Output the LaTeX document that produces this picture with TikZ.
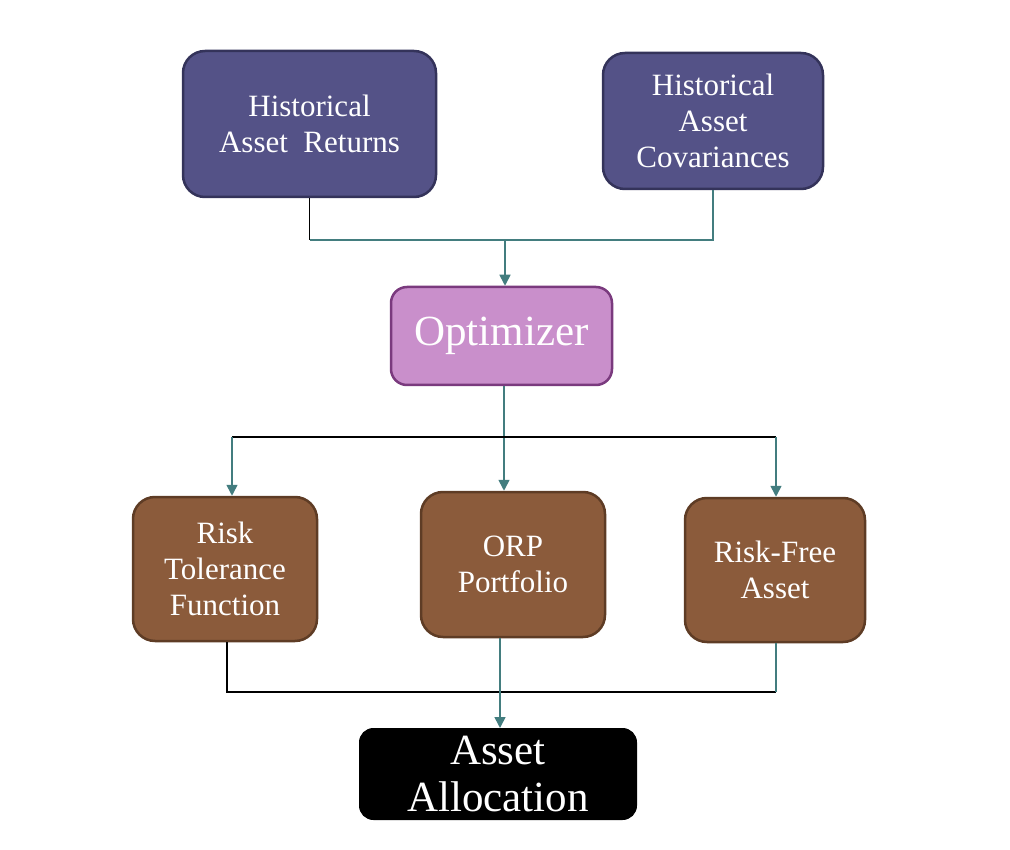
\documentclass[tikz,border=0pt]{standalone}
\usepackage{fontspec}
\setmainfont{Liberation Serif}
\usepackage{xcolor}
\usetikzlibrary{arrows.meta}

\definecolor{histfill}{HTML}{545287}
\definecolor{histline}{HTML}{34335A}
\definecolor{optfill}{HTML}{C98FCB}
\definecolor{optline}{HTML}{7A3A7E}
\definecolor{outfill}{HTML}{8B5B3B}
\definecolor{outline}{HTML}{5E3C25}
\definecolor{link}{HTML}{437D7F}

\begin{document}
\begin{tikzpicture}[x=1pt, y=-1pt, >={Triangle[width=11pt,length=11pt]},
    box/.style={draw, line width=2.5pt, rounded corners=22pt, align=center,
      text=white, inner sep=0pt},
    histbox/.style={box, fill=histfill, draw=histline,
      font=\fontsize{31}{36}\selectfont},
    outbox/.style={box, fill=outfill, draw=outline,
      font=\fontsize{31}{36}\selectfont},
    link/.style={draw=link, line width=1.6pt},
    bar/.style={draw=black, line width=1.6pt}]
    \useasboundingbox (0, 0) rectangle (1010, 850);

    \node[histbox, minimum width=253, minimum height=146] at (309.5, 124) (returns) {Historical\\Asset~~Returns};
    \node[histbox, minimum width=220, minimum height=136] at (713, 121) (covars) {Historical\\Asset\\Covariances};

    \node[box, fill=optfill, draw=optline, minimum width=221, minimum height=98,
      rounded corners=16pt, font=\fontsize{43}{46}\selectfont] at (501.5, 336) (optimizer) {Optimizer};

    \node[outbox, minimum width=184, minimum height=144] at (225, 569) (tolerance) {Risk\\Tolerance\\Function};
    \node[outbox, minimum width=184, minimum height=145] at (513, 564.5) (orp) {ORP\\Portfolio};
    \node[outbox, minimum width=180, minimum height=144] at (775, 570) (riskfree) {Risk-Free\\Asset};

    \node[box, fill=black, draw=black, line width=1pt, minimum width=277, minimum height=91,
      rounded corners=14pt, font=\fontsize{43}{47}\selectfont] at (498, 774) (alloc) {Asset\\Allocation};

    \coordinate (join1) at (505, 240);
    \coordinate (split) at (504, 437);
    \coordinate (join2) at (500, 692);

    % inputs into the optimizer
    \draw[bar] (returns.south) -- (returns.south |- join1);
    \draw[link] (returns.south |- join1) -- (covars.south |- join1) -- (covars.south);
    \draw[link, ->] (join1) -- (join1 |- optimizer.north);

    % optimizer outputs
    \draw[link, ->] (split |- optimizer.south) -- (split |- orp.north);
    \draw[bar] (232, 437) -- (776, 437);
    \draw[link, ->] (232, 437) -- (232, 437 |- tolerance.north);
    \draw[link, ->] (776, 437) -- (776, 437 |- riskfree.north);

    % into the allocation
    \draw[bar] (227, 0 |- tolerance.south) -- (227, 692) -- (776, 692);
    \draw[link] (776, 692) -- (776, 0 |- riskfree.south);
    \draw[link, ->] (join2 |- orp.south) -- (join2 |- alloc.north);
  \end{tikzpicture}
\end{document}
